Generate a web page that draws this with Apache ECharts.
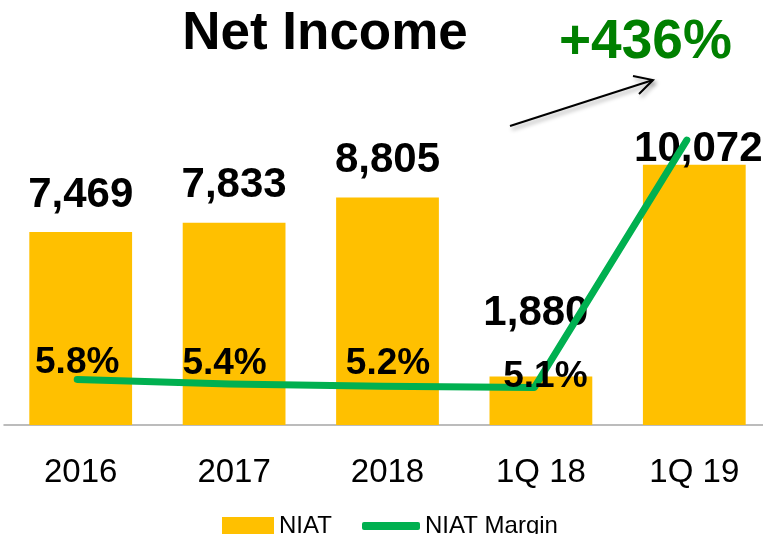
<!DOCTYPE html>
<html>
<head>
<meta charset="utf-8">
<script src="https://cdn.jsdelivr.net/npm/echarts@6/dist/echarts.min.js"></script>
<style>
  html, body { margin: 0; padding: 0; background: #fff; overflow: hidden; }
  #chart { width: 771px; height: 534px; }
</style>
</head>
<body>
<div id="chart"></div>
<script>
var periods = ['2016', '2017', '2018', '1Q 18', '1Q 19'];
var niat = [7469, 7833, 8805, 1880, 10072];
var niatMargin = [5.8, 5.4, 5.2, 5.1, 26.8];
var growthText = '+436%';

// label nudges (pixels), kept apart from the values
var barLabelShift = [[0, 0], [0, 0], [0, 0], [-5, -26], [4, 22]];
var marginLabelShift = [[0, 2], [-5, -1], [6, -3], [11, 8], null];

var FONT = '"Liberation Sans", Arial, sans-serif';
var GREEN = '#00b050';

function buildBarData() {
    return niat.map(function (v, i) {
        return { value: v, label: { offset: barLabelShift[i] } };
    });
}

function buildMarginData() {
    return niatMargin.map(function (v, i) {
        var s = marginLabelShift[i];
        if (!s) {
            return { value: v, label: { show: false } };
        }
        return { value: v, label: { offset: s } };
    });
}

var legendText = { fontFamily: FONT, fontSize: 24, color: '#000' };

var option = {
    animation: false,
    backgroundColor: '#ffffff',
    title: {
        text: 'Net Income',
        left: 320,
        top: 3,
        textAlign: 'center',
        textStyle: { fontFamily: FONT, fontWeight: 'bold', fontSize: 53, color: '#000' }
    },
    legend: [
        {
            left: 217,
            top: 509,
            itemWidth: 52,
            itemHeight: 18,
            textStyle: legendText,
            data: [{ name: 'NIAT', icon: 'rect' }]
        },
        {
            left: 357,
            top: 509,
            itemWidth: 58,
            itemHeight: 8,
            itemGap: 0,
            textStyle: legendText,
            data: [{ name: 'NIAT Margin', icon: 'roundRect' }]
        }
    ],
    grid: [
        { left: 4, right: 0, top: 115, bottom: 109 },
        { left: 1, right: 8, top: 115, bottom: 109 }
    ],
    xAxis: [
        {
            type: 'category',
            data: periods,
            gridIndex: 0,
            axisTick: { show: false },
            axisLine: { lineStyle: { color: '#a6a6a6', width: 1.5 } },
            axisLabel: { margin: 31, fontFamily: FONT, fontSize: 33, color: '#000' }
        },
        { type: 'category', data: periods, gridIndex: 1, show: false }
    ],
    yAxis: [
        { type: 'value', min: 0, max: 12000, gridIndex: 0, show: false },
        { type: 'value', min: 1.8, max: 29, gridIndex: 1, show: false }
    ],
    series: [
        {
            name: 'NIAT',
            type: 'bar',
            barWidth: '67%',
            itemStyle: { color: '#ffc000' },
            label: {
                show: true,
                position: 'top',
                distance: 16,
                fontFamily: FONT,
                fontWeight: 'bold',
                fontSize: 42,
                color: '#000',
                formatter: function (p) { return p.value.toLocaleString('en-US'); }
            },
            data: buildBarData()
        },
        {
            name: 'NIAT Margin',
            type: 'line',
            xAxisIndex: 1,
            yAxisIndex: 1,
            symbol: 'circle',
            symbolSize: 1,
            showSymbol: true,
            z: 5,
            lineStyle: { color: GREEN, width: 7, cap: 'round', join: 'round' },
            itemStyle: { color: GREEN },
            label: {
                show: true,
                position: 'top',
                distance: 0,
                fontFamily: FONT,
                fontWeight: 'bold',
                fontSize: 37,
                color: '#000',
                formatter: function (p) { return p.value.toFixed(1) + '%'; }
            },
            data: buildMarginData()
        }
    ],
    graphic: [
        {
            type: 'text',
            left: 559,
            top: 15,
            style: { text: growthText, fontFamily: FONT, fontWeight: 'bold', fontSize: 55, fill: '#008000' }
        },
        {
            type: 'group',
            children: [
                {
                    type: 'polyline',
                    shape: { points: [[510, 126], [653, 80]] },
                    style: { stroke: '#000', lineWidth: 2, shadowBlur: 4, shadowColor: 'rgba(0,0,0,0.35)', shadowOffsetX: 2, shadowOffsetY: 3 }
                },
                {
                    type: 'polyline',
                    shape: { points: [[633, 76], [653, 80], [639, 94]] },
                    style: { stroke: '#000', lineWidth: 2, fill: null, shadowBlur: 4, shadowColor: 'rgba(0,0,0,0.35)', shadowOffsetX: 2, shadowOffsetY: 3 }
                }
            ]
        }
    ]
};

var chart = echarts.init(document.getElementById('chart'));
chart.setOption(option);
</script>
</body>
</html>
